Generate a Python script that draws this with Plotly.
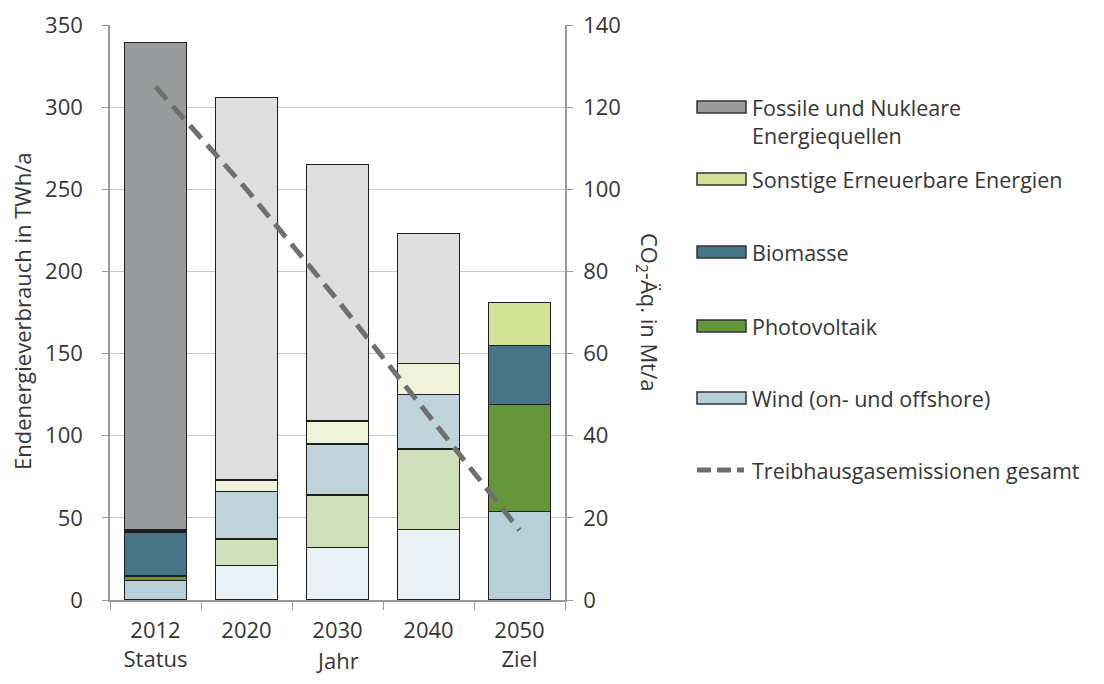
import plotly.graph_objects as go

# --- Daten ---
jahre = ["2012<br>Status", "2020", "2030", "2040", "2050<br>Ziel"]
wind = [12, 21, 32, 43, 54]
photovoltaik = [2.5, 16, 32, 49, 65]
biomasse = [27, 29, 31, 33, 36]
sonstige = [1, 7, 14, 19, 26]
fossil = [297, 233, 156, 79, 0]
emissionen = [125, 100, 73, 45, 17]

namen = ["Wind (on- und offshore)", "Photovoltaik", "Biomasse",
         "Sonstige Erneuerbare Energien", "Fossile und Nukleare<br>Energiequellen"]
farben_voll = ["#b6cfd9", "#66953a", "#467587", "#d3e296", "#999b9c"]
farben_blass = ["#eaf0f3", "#d0e0bb", "#bfd3db", "#eef3da", "#dddedd"]
# Status und Ziel kräftig, Zwischenjahre blass
voll = [True, False, False, False, True]

FONT = "Open Sans"
TXT = "#363636"
FS = 22
FS_LEG = 21.5

fig = go.Figure()
for werte, name, cv, cb in zip([wind, photovoltaik, biomasse, sonstige, fossil], namen, farben_voll, farben_blass):
    fig.add_trace(go.Bar(x=jahre, y=werte, name=name, showlegend=False,
                         marker=dict(color=[cv if v else cb for v in voll], line=dict(color="#1e1e1e", width=1.5))))

fig.add_trace(go.Scatter(x=jahre, y=emissionen, yaxis="y2", mode="lines", showlegend=False,
                         line=dict(color="#6e6f6f", width=5, dash="17px,9px")))

# Plotbereich in Pixeln (Referenz): x 110..565, y 25..600 ; die Seite verschiebt um 8px
def px_x(p): return (p - 110) / 455
def px_y(p): return (600 - p) / 575

fig.update_layout(
    width=1104, height=684,
    margin=dict(l=102, r=547, t=17, b=92),
    barmode="stack", bargap=0.32,
    plot_bgcolor="white", paper_bgcolor="white",
    font=dict(family=FONT, size=FS, color=TXT),
    xaxis=dict(showline=True, linecolor="#9a9a9a", linewidth=1.5, ticks="outside", tickson="boundaries",
               ticklen=8, tickcolor="#9a9a9a", tickfont=dict(size=FS), ticklabelstandoff=10, automargin=False),
    yaxis=dict(range=[0, 350], dtick=50, showgrid=True, gridcolor="#c9c9c9", gridwidth=1.2,
               showline=True, linecolor="#9a9a9a", linewidth=1.5, ticks="outside", ticklen=6,
               tickcolor="#9a9a9a", zeroline=False, ticklabelstandoff=15, automargin=False),
    yaxis2=dict(range=[0, 140], dtick=20, overlaying="y", side="right", showgrid=False,
                showline=True, linecolor="#9a9a9a", linewidth=1.5, ticks="outside", ticklen=6,
                tickcolor="#9a9a9a", zeroline=False, ticklabelstandoff=6, automargin=False),
)

annos = [
    dict(text="Endenergieverbrauch in TWh/a", x=px_x(22), y=px_y(312), textangle=-90),
    dict(text="CO<sub>2</sub>-Äq. in Mt/a", x=px_x(648), y=px_y(312), textangle=90),
    dict(text="Jahr", x=px_x(337), y=px_y(660)),
]
for a in annos:
    fig.add_annotation(xref="paper", yref="paper", showarrow=False, xanchor="center", yanchor="middle",
                       font=dict(size=FS, color=TXT), **a)

# Legende von Hand (breite Farbfelder wie im Original)
leg_reihenfolge = [4, 3, 2, 1, 0]
leg_y = [107, 179, 252, 326, 398]
for i, yy in zip(leg_reihenfolge, leg_y):
    fig.add_shape(type="rect", xref="paper", yref="paper", x0=px_x(697), x1=px_x(746),
                  y0=px_y(yy - 6), y1=px_y(yy + 6), fillcolor=farben_voll[i],
                  line=dict(color="#333333", width=1.5))
    if i == 4:
        fig.add_annotation(xref="paper", yref="paper", x=px_x(750), y=px_y(yy - 16), xanchor="left",
                           yanchor="top", align="left", text=namen[i], showarrow=False,
                           font=dict(size=FS_LEG, color=TXT))
    else:
        fig.add_annotation(xref="paper", yref="paper", x=px_x(750), y=px_y(yy), xanchor="left",
                           yanchor="middle", text=namen[i], showarrow=False, font=dict(size=FS_LEG, color=TXT))

fig.add_shape(type="line", xref="paper", yref="paper", x0=px_x(697), x1=px_x(744),
              y0=px_y(470), y1=px_y(470), line=dict(color="#6e6f6f", width=5, dash="14px,6px"))
fig.add_annotation(xref="paper", yref="paper", x=px_x(750), y=px_y(470), xanchor="left", yanchor="middle",
                   text="Treibhausgasemissionen gesamt", showarrow=False, font=dict(size=FS_LEG, color=TXT))

fig.write_html("out.html")
